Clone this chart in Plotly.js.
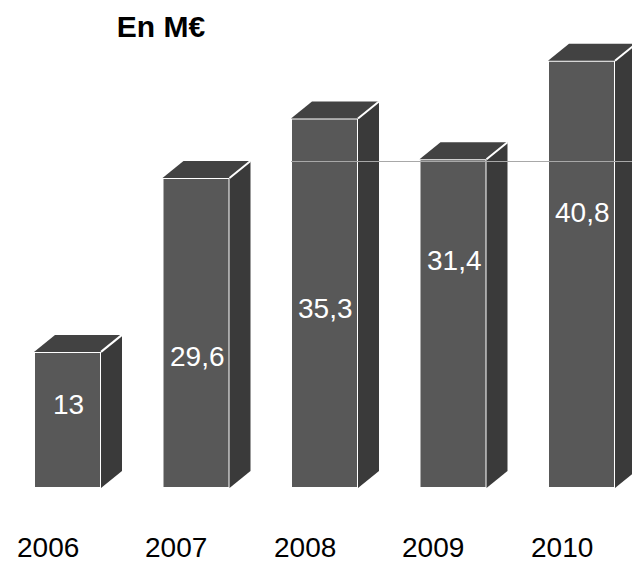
<!DOCTYPE html>
<html><head><meta charset="utf-8">
<script src="https://cdn.plot.ly/plotly-3.0.1.min.js"></script>
<style>html,body{margin:0;padding:0;background:#fff}#c{width:632px;height:563px}</style>
</head><body><div id="c"></div>
<script>
// ---- data ----
const years = ['2006', '2007', '2008', '2009', '2010'];
const values = [13, 29.6, 35.3, 31.4, 40.8];
const valueLabels = ['13', '29,6', '35,3', '31,4', '40,8'];
const chartTitle = 'En M€';

// ---- geometry (styles) ----
const W = 632, H = 563;
const pxPerCat = 128.5, firstCenterPx = 67.5;
const pxPerUnit = 10.47, basePx = 488;
const xr = [-firstCenterPx / pxPerCat, (W - firstCenterPx) / pxPerCat];
const yr = [(basePx - H) / pxPerUnit, basePx / pxPerUnit];
const barW = 67 / pxPerCat;
const dx = 21 / pxPerCat, dy = 17 / pxPerUnit;
const pxToY = p => (basePx - p) / pxPerUnit;
const labelPx0 = 404, labelStepPx = 48;
const FONT = 'Liberation Sans, Arial, Helvetica, sans-serif';

const xs = years.map((_, i) => i);
const traces = [];
// front faces
traces.push({type: 'bar', x: xs, y: values, width: barW,
  marker: {color: '#585858', line: {color: '#ffffff', width: 2}},
  hoverinfo: 'skip', showlegend: false});
// top and side faces
values.forEach((v, i) => {
  const l = i - barW / 2, r = i + barW / 2;
  traces.push({type: 'scatter', mode: 'lines', fill: 'toself', fillcolor: '#424242',
    x: [l, l + dx, r + dx, r, l], y: [v, v + dy, v + dy, v, v],
    line: {width: 0, color: '#424242'}, hoverinfo: 'skip', showlegend: false});
  traces.push({type: 'scatter', mode: 'lines', fill: 'toself', fillcolor: '#3a3a3a',
    x: [r, r + dx, r + dx, r, r], y: [0, dy, v + dy, v, 0],
    line: {width: 0, color: '#3a3a3a'}, hoverinfo: 'skip', showlegend: false});
  traces.push({type: 'scatter', mode: 'lines',
    x: [r, r + dx], y: [v, v + dy],
    line: {width: 2, color: '#ffffff'}, hoverinfo: 'skip', showlegend: false});
});

const annotations = [];
values.forEach((v, i) => {
  annotations.push({x: i + 1 / pxPerCat, y: pxToY(labelPx0 - labelStepPx * i), text: valueLabels[i], showarrow: false,
    xanchor: 'center', yanchor: 'middle',
    font: {family: FONT, size: 28, color: '#ffffff'}});
  annotations.push({x: i - 20 / pxPerCat, y: pxToY(547), text: years[i], showarrow: false,
    xanchor: 'center', yanchor: 'middle',
    font: {family: FONT, size: 28, color: '#000000'}});
});

const layout = {
  width: W, height: H,
  margin: {l: 0, r: 0, t: 0, b: 0},
  paper_bgcolor: '#ffffff', plot_bgcolor: '#ffffff',
  title: {text: '<b>' + chartTitle + '</b>', x: 161 / W, xanchor: 'center',
    y: 1 - 26 / H, yanchor: 'middle',
    font: {family: FONT, size: 30, color: '#000000'}},
  xaxis: {range: xr, visible: false, fixedrange: true},
  yaxis: {range: yr, visible: false, fixedrange: true},
  shapes: [{type: 'line', xref: 'x', yref: 'y', layer: 'above',
    x0: 2 - barW / 2, x1: xr[1], y0: pxToY(161.5), y1: pxToY(161.5),
    line: {color: '#a8a8a8', width: 1}}],
  annotations: annotations,
  showlegend: false
};
Plotly.newPlot('c', traces, layout, {displayModeBar: false, staticPlot: true});
</script></body></html>
